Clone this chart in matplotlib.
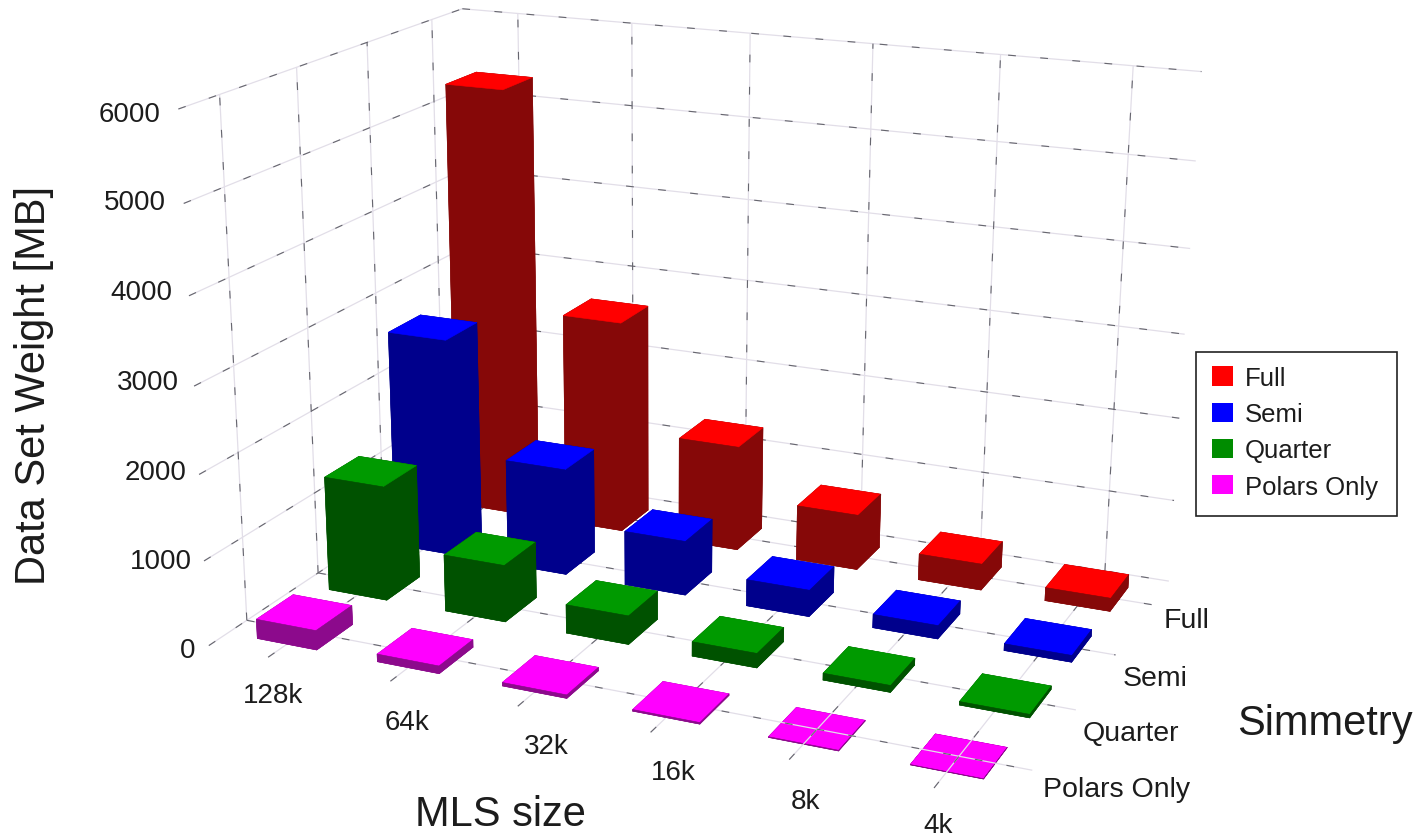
import numpy as np
import matplotlib
matplotlib.use("Agg")
import matplotlib.pyplot as plt
from matplotlib.patches import Patch, Rectangle
from mpl_toolkits.mplot3d.art3d import Line3DCollection

plt.rcParams['font.family'] = ['Liberation Sans', 'DejaVu Sans']

W, H = 1417, 837

# ---- data ----
sizes = ['128k', '64k', '32k', '16k', '8k', '4k']
series = ['Polars Only', 'Quarter', 'Semi', 'Full']
polars_only = [230, 90, 40, 18, 8, 4]
quarter = [1380, 680, 340, 170, 80, 40]
semi = [2670, 1300, 660, 320, 160, 80]
full = [5320, 2640, 1300, 680, 320, 160]
z_ticks = [0, 1000, 2000, 3000, 4000, 5000, 6000]

top_colors = {'Full': '#ff0000', 'Semi': '#0000ff', 'Quarter': '#009a00', 'Polars Only': '#ff00ff'}
side_colors = {'Full': '#860808', 'Semi': '#00008c', 'Quarter': '#005200', 'Polars Only': '#8c0a8c'}
legend_colors = {'Full': '#ff0000', 'Semi': '#0000ff', 'Quarter': '#008c00', 'Polars Only': '#ff00ff'}
values = {'Polars Only': polars_only, 'Quarter': quarter, 'Semi': semi, 'Full': full}

# ---- perspective camera: box landmarks (x, y, z) seen at image pixels (u, v) ----
cam_3d = np.array([
    (-.5, -.5, 0), (-.5, 0, 0), (-.5, 1, 0), (0, -.5, 0), (5, -.5, 0), (5, 0, 0),
    (5.5, 0, 0), (5.5, 1, 0), (5.5, 2, 0), (5.5, 3, 0), (5.5, 3.5, 0),
    (5.5, 3.5, 1000), (5.5, 3.5, 3000), (5.5, 3.5, 6000), (5, 3.5, 6000), (5, 3.5, 1000),
    (0, 3.5, 6000), (-.5, 3.5, 6000), (-.5, 3, 6000), (-.5, 2, 6000), (-.5, 1, 6000),
    (-.5, 0, 6000), (-.5, -.5, 6000), (-.5, 0, 5000), (-.5, 1, 5000), (-.5, 2, 5000),
    (-.5, 3, 5000), (-.5, 0, 1000), (-.5, -.5, 1000)], float)
cam_px = np.array([
    (209, 646), (247, 620), (317, 575), (269, 659), (935, 788), (958, 758),
    (1032, 772), (1075, 712), (1117, 656), (1150, 605), (1170, 582),
    (1174, 501), (1184, 335), (1203, 73), (1132, 67), (1110, 491),
    (519, 15), (460, 10), (433, 22), (367, 43), (295, 69),
    (218, 96), (182, 107), (223, 188), (299, 158), (370, 129),
    (436, 100), (242, 540), (205, 561)], float)


def fit_camera(pts, px):
    rows, rhs = [], []
    for (x, y, z), (u, v) in zip(pts, px):
        z = z / 1000
        rows.append([x, y, z, 1, 0, 0, 0, 0, -u * x, -u * y, -u * z]); rhs.append(u)
        rows.append([0, 0, 0, 0, x, y, z, 1, -v * x, -v * y, -v * z]); rhs.append(v)
    p = np.linalg.lstsq(np.array(rows), np.array(rhs), rcond=None)[0]
    P = np.array([p[:4], p[4:8], [p[8], p[9], p[10], 1.0]])
    P[:, 2] /= 1000
    return P


fig = plt.figure(figsize=(W / 100, H / 100), dpi=100, facecolor='white')
side = W / H
ax = fig.add_axes([0, (1 - side) / 2, 1, side], projection='3d', computed_zorder=False)
ax.set_axis_off()
ax.patch.set_alpha(0)
ax.apply_aspect()

P = fit_camera(cam_3d, cam_px)
a = ax.transData.transform((0, 0))
b = ax.transData.transform((1, 1))
M = np.array([
    (P[0] - a[0] * P[2]) / (b[0] - a[0]),
    (H * P[2] - P[1] - a[1] * P[2]) / (b[1] - a[1]),
    P[2] - np.array([0, 0, 0, 0.5]),
    P[2]])
ax.get_proj = lambda: M

# ---- grid ----
xlo, xhi = -.5, len(sizes) - .5
ylo, yhi = -.5, len(series) - .5
segments = []
for z in z_ticks:
    segments.append([(xlo, ylo, z), (xlo, yhi, z)])
    segments.append([(xlo, yhi, z), (xhi, yhi, z)])
for j in range(len(series)):
    segments.append([(xlo, j, 0), (xlo, j, z_ticks[-1])])
    segments.append([(xlo, j, 0), (xhi, j, 0)])
for i in range(len(sizes)):
    segments.append([(i, yhi, 0), (i, yhi, z_ticks[-1])])
    segments.append([(i, ylo, 0), (i, yhi, 0)])

ax.add_collection3d(Line3DCollection(segments, colors='#e2dee8', linewidths=0.9, zorder=1))
ax.add_collection3d(Line3DCollection(segments, colors='#66666e', linewidths=0.8, zorder=1.1,
                                     linestyles=[(0, (7, 22))]))

# ---- bars, far to near ----
bw = 0.5
for j, name in reversed(list(enumerate(series))):
    for i in range(len(sizes)):
        faces = [side_colors[name], top_colors[name]] + [side_colors[name]] * 4
        order = 10 + (len(series) - j) * 10 + i
        if name == 'Polars Only' and i >= 4:
            order = 0.5        # flat enough for the floor lines to show over it
        ax.bar3d(i - bw / 2, j - bw / 2, 0, bw, bw, values[name][i], color=faces,
                 edgecolor=faces, linewidth=0.4, shade=False, zorder=order)

# ---- text ----
ink = '#1c1c1c'


def label(u, v, s, size, ha='center', **kw):
    fig.text(u / W, 1 - (v + 2.5) / H, s, fontsize=size, ha=ha, va='center', color=ink, **kw)


z_right = [195, 192, 186, 179, 172, 166, 160]
z_y = [649, 560, 471, 381, 291, 200, 112]
for z, u, v in zip(z_ticks, z_right, z_y):
    label(u, v, str(z), 20, ha='right')
for s, u, v in zip(sizes, [273, 407, 546, 673, 806, 938], [694, 721, 745, 771, 800, 824]):
    label(u, v, s, 20)
for s, u, v in zip(series, [1117, 1131, 1155, 1187], [788, 732, 677, 619]):
    label(u, v, s, 20.5)
label(1325, 722, 'Simmetry', 30)
label(500, 813, 'MLS size', 30)
label(34, 383, 'Data Set Weight [MB]', 30, rotation=90)

# ---- legend ----
fig.add_artist(Rectangle((1196 / W, 1 - 517 / H), 201 / W, 164 / H, transform=fig.transFigure,
                         facecolor='white', edgecolor='#222222', linewidth=1.2, zorder=4))
handles = [Patch(facecolor=legend_colors[s], edgecolor='none', label=s) for s in reversed(series)]
leg = fig.legend(handles=handles, loc='upper left', bbox_to_anchor=(1212 / W, 1 - 367 / H),
                 bbox_transform=fig.transFigure, borderaxespad=0, fontsize=18.5, frameon=False,
                 handlelength=0.82, handleheight=0.78, handletextpad=0.45, labelspacing=0.475,
                 borderpad=0, labelcolor=ink)
leg.set_zorder(5)

fig.savefig('out.png', dpi=100, facecolor='white')
